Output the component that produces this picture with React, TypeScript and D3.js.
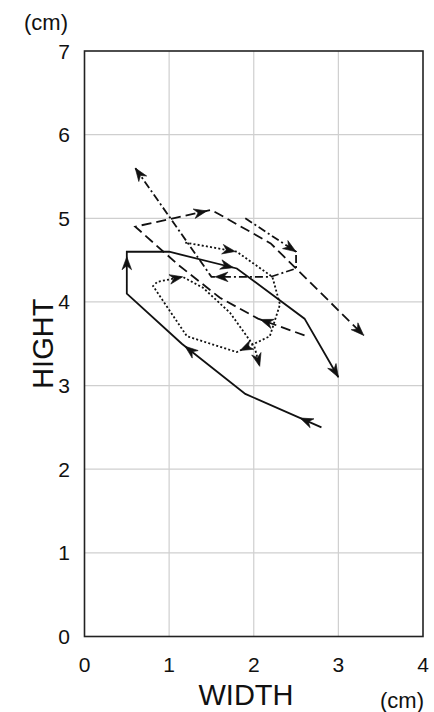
import React from "react";
import * as d3 from "d3";

const xTicks = [0, 1, 2, 3, 4];
const yTicks = [0, 1, 2, 3, 4, 5, 6, 7];

const solidX = [2.8, 1.9, 1.15, 0.5, 0.5, 1.0, 1.8, 2.6, 3.0];
const solidY = [2.5, 2.9, 3.5, 4.1, 4.6, 4.6, 4.4, 3.8, 3.1];
const solidArrows = [[0, 0.28], [1, 0.95], [3, 0.88], [5, 0.95], [7, 1]];

const dottedX = [1.19, 1.8, 2.22, 2.31, 2.19, 1.8, 1.21, 0.81, 0.86, 1.16, 1.4, 1.72, 2.01, 2.07];
const dottedY = [4.71, 4.6, 4.3, 3.97, 3.59, 3.4, 3.59, 4.19, 4.24, 4.3, 4.17, 3.87, 3.46, 3.23];
const dottedArrows = [[0, 0.97], [4, 0.9], [8, 1], [12, 1]];

const dashX = [2.6, 2.05, 1.6, 1.1, 0.6, 1.5, 2.2, 3.3];
const dashY = [3.6, 3.8, 4.05, 4.45, 4.9, 5.1, 4.7, 3.6];
const dashArrows = [[0, 0.95], [4, 0.94], [6, 1]];

const dashDotX = [1.9, 2.5, 2.5, 2.2, 1.5, 0.6];
const dashDotY = [5.0, 4.6, 4.4, 4.3, 4.3, 5.6];
const dashDotArrows = [[0, 1], [3, 0.94], [4, 1]];

const W = 434;
const H = 712;
const left = 84.5;
const right = 423;
const top = 51;
const bottom = 636.5;

const x = d3.scaleLinear().domain([0, 4]).range([left, right]);
const y = d3.scaleLinear().domain([0, 7]).range([bottom, top]);

const FONT = "'Liberation Sans', Arial, sans-serif";

type Series = { xs: number[]; ys: number[]; arrows: number[][]; dash: string };

const series: Series[] = [
  { xs: solidX, ys: solidY, arrows: solidArrows, dash: "none" },
  { xs: dottedX, ys: dottedY, arrows: dottedArrows, dash: "2,2.2" },
  { xs: dashX, ys: dashY, arrows: dashArrows, dash: "10,5" },
  { xs: dashDotX, ys: dashDotY, arrows: dashDotArrows, dash: "8,3,2,3" },
];

const line = d3
  .line<[number, number]>()
  .x((d) => x(d[0]))
  .y((d) => y(d[1]));

function Arrow({ s, seg, t }: { s: Series; seg: number; t: number }) {
  const x0 = x(s.xs[seg]);
  const y0 = y(s.ys[seg]);
  const x1 = x(s.xs[seg + 1]);
  const y1 = y(s.ys[seg + 1]);
  const px = x0 + (x1 - x0) * t;
  const py = y0 + (y1 - y0) * t;
  const ang = (Math.atan2(y1 - y0, x1 - x0) * 180) / Math.PI;
  return (
    <path
      d="M0,0 L-13,-4.8 L-9,0 L-13,4.8 Z"
      fill="#111"
      stroke="#111"
      strokeWidth={0.6}
      strokeLinejoin="miter"
      transform={`translate(${px},${py}) rotate(${ang})`}
    />
  );
}

export default function App() {
  return (
    <svg
      width={W}
      height={H}
      style={{ position: "absolute", left: 0, top: 0, background: "#fff" }}
      fontFamily={FONT}
    >
      <rect x={0} y={0} width={W} height={H} fill="#fff" />
      {/* grid */}
      {xTicks.slice(1, -1).map((v) => (
        <line key={"gx" + v} x1={x(v)} x2={x(v)} y1={top} y2={bottom} stroke="#cfcfcf" strokeWidth={1.2} />
      ))}
      {yTicks.slice(1, -1).map((v) => (
        <line key={"gy" + v} x1={left} x2={right} y1={y(v)} y2={y(v)} stroke="#cfcfcf" strokeWidth={1.2} />
      ))}
      {/* frame */}
      <rect x={left} y={top} width={right - left} height={bottom - top} fill="none" stroke="#222" strokeWidth={1.6} />
      {/* series */}
      {series.map((s, i) => (
        <g key={"s" + i}>
          <path
            d={line(s.xs.map((v, j) => [v, s.ys[j]] as [number, number])) || ""}
            fill="none"
            stroke="#111"
            strokeWidth={1.8}
            strokeDasharray={s.dash}
            strokeLinejoin="miter"
          />
          {s.arrows.map((a, k) => (
            <Arrow key={k} s={s} seg={a[0]} t={a[1]} />
          ))}
        </g>
      ))}
      {/* y tick labels */}
      {yTicks.map((v) => (
        <text key={"yt" + v} x={70} y={y(v)} dy="0.36em" textAnchor="end" fontSize={21} fill="#111">
          {v}
        </text>
      ))}
      {/* x tick labels */}
      {xTicks.map((v) => (
        <text key={"xt" + v} x={x(v)} y={672} textAnchor="middle" fontSize={21} fill="#111">
          {v}
        </text>
      ))}
      <text x={46} y={30} textAnchor="middle" fontSize={22} fill="#111">
        (cm)
      </text>
      <text x={402} y={708} textAnchor="middle" fontSize={22} fill="#111">
        (cm)
      </text>
      <text x={246} y={705} textAnchor="middle" fontSize={29} fill="#111">
        WIDTH
      </text>
      <text
        transform={`translate(53,${(top + bottom) / 2}) rotate(-90)`}
        textAnchor="middle"
        fontSize={29}
        fill="#111"
      >
        HIGHT
      </text>
    </svg>
  );
}
